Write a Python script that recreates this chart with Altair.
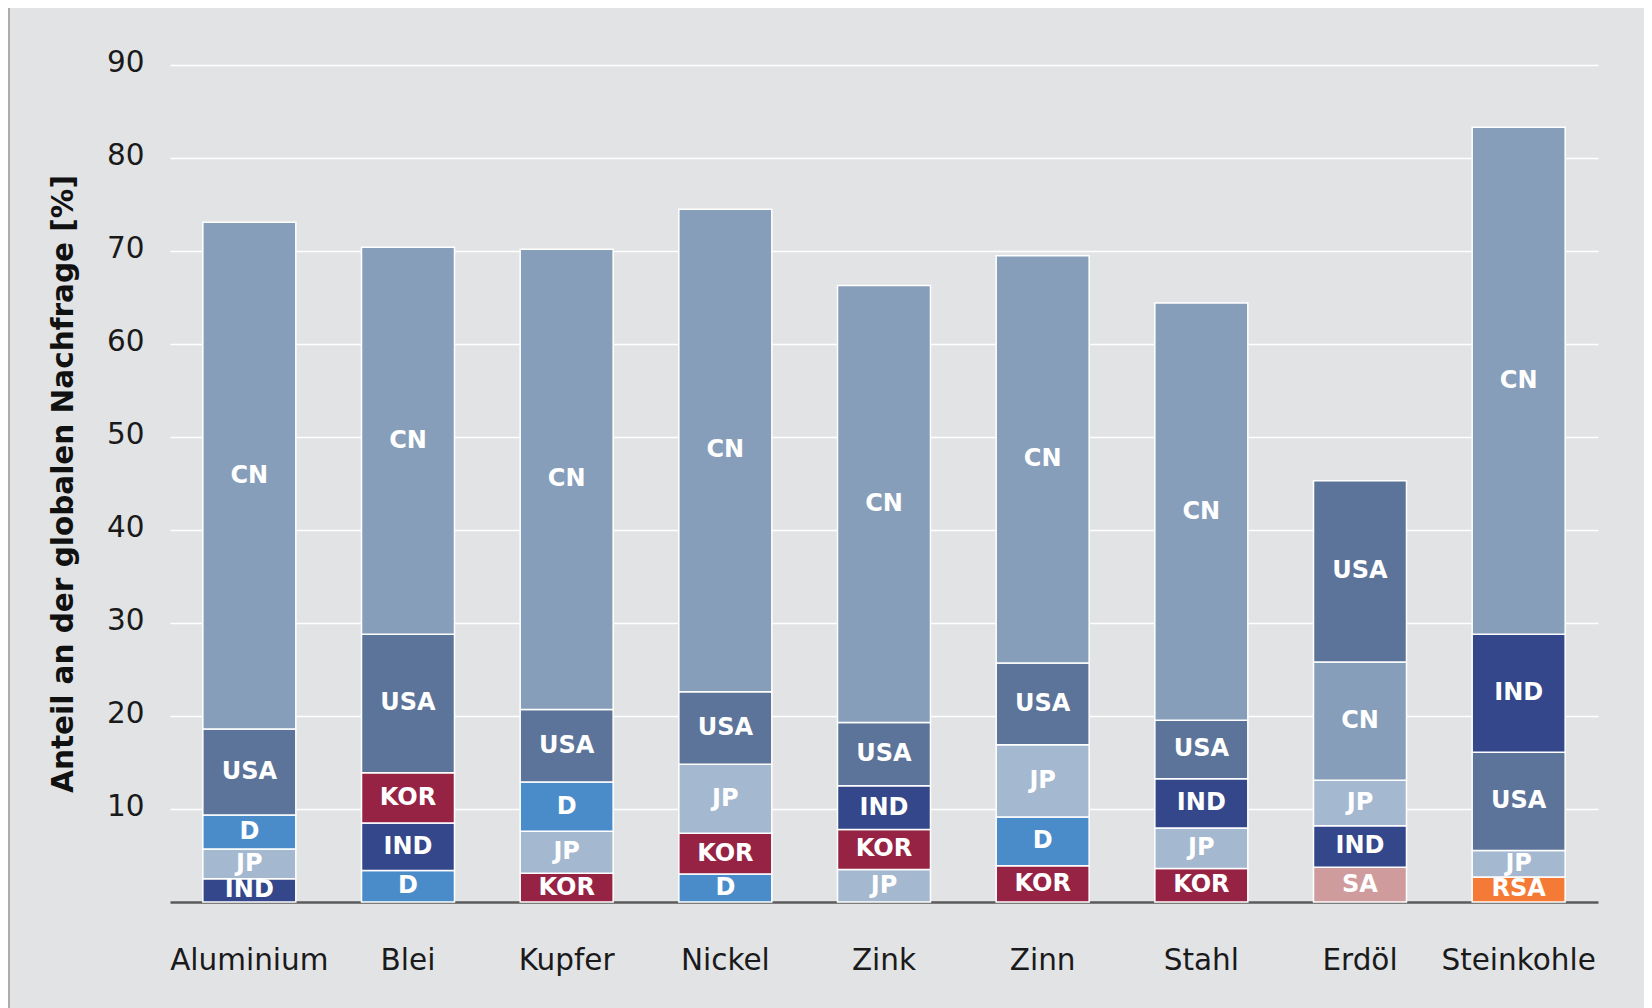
import altair as alt
import pandas as pd

materials = ["Aluminium", "Blei", "Kupfer", "Nickel", "Zink", "Zinn", "Stahl", "Erdöl", "Steinkohle"]

# segments per bar, bottom -> top
stack_countries = [
    ["IND", "JP", "D", "USA", "CN"],
    ["D", "IND", "KOR", "USA", "CN"],
    ["KOR", "JP", "D", "USA", "CN"],
    ["D", "KOR", "JP", "USA", "CN"],
    ["JP", "KOR", "IND", "USA", "CN"],
    ["KOR", "D", "JP", "USA", "CN"],
    ["KOR", "JP", "IND", "USA", "CN"],
    ["SA", "IND", "JP", "CN", "USA"],
    ["RSA", "JP", "USA", "IND", "CN"],
]
stack_values = [
    [2.5, 3.2, 3.65, 9.25, 54.5],
    [3.4, 5.1, 5.4, 14.9, 41.6],
    [3.1, 4.5, 5.3, 7.8, 49.5],
    [3.0, 4.4, 7.4, 7.8, 51.9],
    [3.5, 4.3, 4.7, 6.8, 47.0],
    [3.9, 5.25, 7.75, 8.8, 43.8],
    [3.6, 4.35, 5.3, 6.3, 44.85],
    [3.75, 4.45, 4.9, 12.7, 19.5],
    [2.7, 2.85, 10.55, 12.7, 54.5],
]

countries = ["CN", "USA", "D", "JP", "IND", "KOR", "SA", "RSA"]
country_colors = ["#869eba", "#5c7499", "#4a8cc9", "#a4b8d0", "#33478a", "#962244", "#cf9b9c", "#f47a35"]

y_ticks = [10, 20, 30, 40, 50, 60, 70, 80, 90]

rows = []
for m, cs, vs in zip(materials, stack_countries, stack_values):
    for i, (c, v) in enumerate(zip(cs, vs)):
        rows.append({"material": m, "country": c, "value": v, "order": i})
df = pd.DataFrame(rows)

base = alt.Chart(df).transform_stack(
    stack="value",
    groupby=["material"],
    sort=[alt.SortField("order", order="ascending")],
    as_=["y0", "y1"],
).transform_calculate(mid="(datum.y0 + datum.y1) / 2")

x_enc = alt.X(
    "material:N",
    sort=materials,
    scale=alt.Scale(paddingInner=0.414, paddingOuter=0.207),
    axis=alt.Axis(
        title=None,
        labelAngle=0,
        ticks=False,
        domain=True,
        domainColor="#5a5a5a",
        domainWidth=2.5,
        labelFont="DejaVu Sans",
        labelFontSize=29.5,
        labelColor="#1a1a1a",
        labelPadding=44,
        grid=False,
    ),
)

bars = base.mark_bar(stroke="white", strokeWidth=1.5).encode(
    x=x_enc,
    y=alt.Y(
        "y0:Q",
        scale=alt.Scale(domain=[0, 90], nice=False, zero=True),
        axis=alt.Axis(
            title="Anteil an der globalen Nachfrage [%]",
            values=y_ticks,
            ticks=False,
            domain=False,
            grid=True,
            gridColor="white",
            gridWidth=1.5,
            labelFont="DejaVu Sans",
            labelFontSize=29.5,
            labelColor="#1a1a1a",
            labelPadding=26,
            labelOffset=-3,
            titleFont="DejaVu Sans",
            titleFontSize=29.5,
            titleFontWeight="bold",
            titleColor="#111111",
            titlePadding=28,
        ),
    ),
    y2="y1:Q",
    color=alt.Color(
        "country:N",
        scale=alt.Scale(domain=countries, range=country_colors),
        legend=None,
    ),
)

labels = base.mark_text(
    color="white",
    font="DejaVu Sans",
    fontWeight="bold",
    fontSize=24,
    align="center",
    baseline="middle",
).encode(
    x=alt.X("material:N", sort=materials),
    y=alt.Y("mid:Q"),
    text="country:N",
)

frame = alt.Chart(pd.DataFrame({"f": [0]})).mark_rect(
    fill=None, stroke="#9a9a9a", strokeWidth=1.5, clip=False
).encode(
    x=alt.value(-161),
    x2=alt.value(1476),
    y=alt.value(-59),
    y2=alt.value(960),
)

chart = alt.layer(bars, labels, frame).properties(
    width=1428,
    height=837,
    padding={"left": 162, "top": 57, "right": 46, "bottom": 106},
    autosize=alt.AutoSizeParams(type="none"),
    background="#e2e3e5",
).configure_view(stroke=None)

chart.save("out.html", embed_options={"renderer": "svg", "actions": False})
